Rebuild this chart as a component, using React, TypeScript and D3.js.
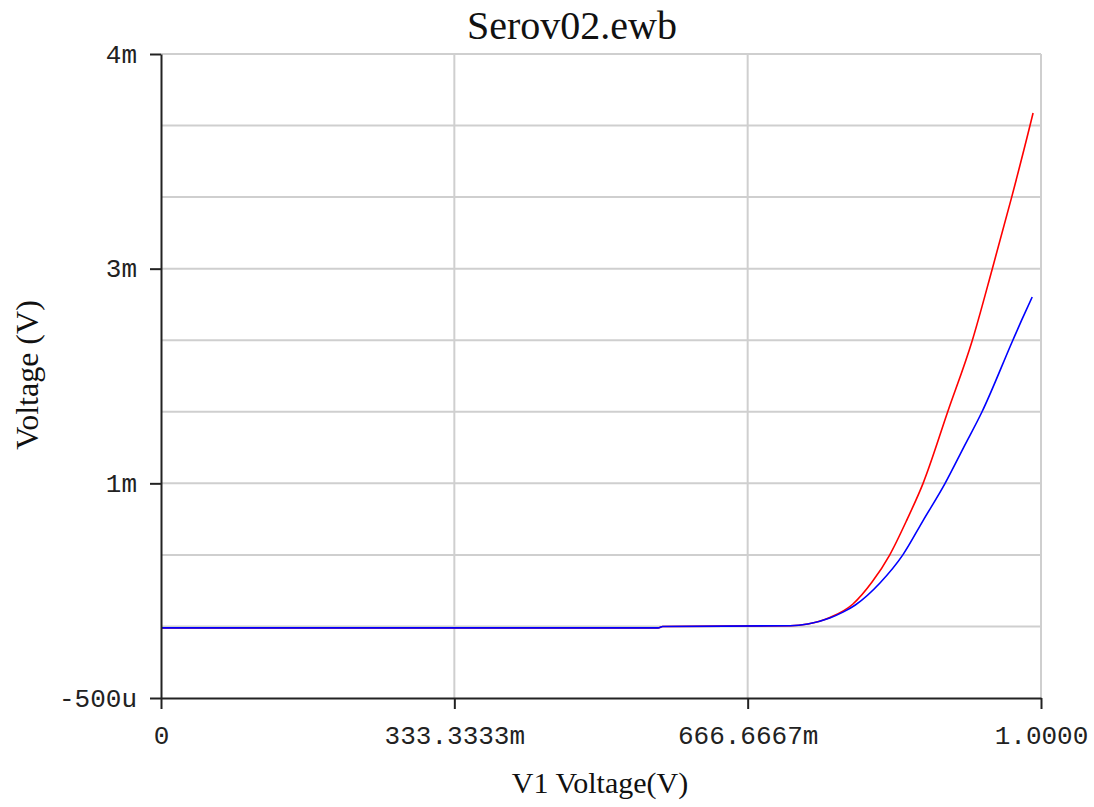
import React, { useEffect, useRef } from 'react';
import * as d3 from 'd3';

// sweep of V1 (volts) and node voltages (millivolts)
const redX = [0, 0.565, 0.57, 0.715, 0.735, 0.76, 0.786, 0.808, 0.828, 0.848, 0.866, 0.894, 0.922, 0.9447, 0.9667, 0.9875, 0.991];
const redMv = [-0.01, -0.01, 0, 0.005, 0.017, 0.062, 0.155, 0.31, 0.499, 0.75, 1.0, 1.5, 2.0, 2.5, 3.0, 3.5, 3.588];

const blueX = [0, 0.565, 0.57, 0.715, 0.735, 0.76, 0.775, 0.789, 0.817, 0.843, 0.866, 0.891, 0.912, 0.933, 0.968, 0.978, 0.99];
const blueMv = [-0.01, -0.01, 0, 0.005, 0.017, 0.059, 0.1, 0.15, 0.304, 0.5, 0.74, 1.0, 1.25, 1.5, 2.0, 2.14, 2.302];

const xTicks = [0, 1 / 3, 2 / 3, 1];
const xTickLabels = ['0', '333.3333m', '666.6667m', '1.0000'];
const yTicks = [4, 2.5, 1, -0.5];
const yTickLabels = ['4m', '3m', '1m', '-500u'];
const yGrid = [0, 0.5, 1, 1.5, 2, 2.5, 3, 3.5, 4];

const W = 1094;
const H = 807;

export default function App() {
  const svgRef = useRef<SVGSVGElement>(null);

  useEffect(() => {
    if (!svgRef.current) return;
    const svg = d3.select(svgRef.current);
    svg.selectAll('*').remove();

    const xScale = d3.scaleLinear().domain([0, 1]).range([161, 1041]);
    const yScale = d3.scaleLinear().domain([-0.5, 4]).range([698, 54]);

    // grid
    const grid = svg.append('g').attr('stroke', '#cfcfcf').attr('stroke-width', 2);
    yGrid.forEach(v => {
      grid.append('line')
        .attr('x1', xScale(0)).attr('x2', xScale(1))
        .attr('y1', yScale(v)).attr('y2', yScale(v));
    });
    xTicks.slice(1).forEach(v => {
      grid.append('line')
        .attr('x1', xScale(v)).attr('x2', xScale(v))
        .attr('y1', yScale(4)).attr('y2', yScale(-0.5));
    });

    // traces
    const line = d3.line<[number, number]>()
      .x(d => xScale(d[0]))
      .y(d => yScale(d[1]))
      .curve(d3.curveMonotoneX);

    svg.append('path')
      .datum(redX.map((x, i) => [x, redMv[i]] as [number, number]))
      .attr('fill', 'none')
      .attr('stroke', '#ff0000')
      .attr('stroke-width', 1.6)
      .attr('d', line);

    svg.append('path')
      .datum(blueX.map((x, i) => [x, blueMv[i]] as [number, number]))
      .attr('fill', 'none')
      .attr('stroke', '#0000ff')
      .attr('stroke-width', 1.6)
      .attr('d', line);

    // axes
    const xAxis = svg.append('g')
      .attr('transform', `translate(0,${yScale(-0.5)})`)
      .call(d3.axisBottom(xScale)
        .tickValues(xTicks)
        .tickFormat((_, i) => xTickLabels[i])
        .tickSize(11)
        .tickSizeOuter(0)
        .tickPadding(17));

    const yAxis = svg.append('g')
      .attr('transform', `translate(${xScale(0)},0)`)
      .call(d3.axisLeft(yScale)
        .tickValues(yTicks)
        .tickFormat((_, i) => yTickLabels[i])
        .tickSize(11)
        .tickSizeOuter(0)
        .tickPadding(13));

    [xAxis, yAxis].forEach(a => {
      a.attr('color', '#222')
        .attr('font-family', '"Liberation Mono", monospace')
        .attr('font-size', 26);
      a.selectAll('path, line').attr('stroke-width', 2);
    });

    // titles
    svg.append('text')
      .attr('x', 572).attr('y', 39)
      .attr('text-anchor', 'middle')
      .attr('font-family', '"Liberation Serif", serif')
      .attr('font-size', 40)
      .attr('fill', '#111')
      .text('Serov02.ewb');

    svg.append('text')
      .attr('x', 600).attr('y', 793)
      .attr('text-anchor', 'middle')
      .attr('font-family', '"Liberation Serif", serif')
      .attr('font-size', 30)
      .attr('fill', '#111')
      .text('V1 Voltage(V)');

    svg.append('text')
      .attr('transform', 'translate(38,375) rotate(-90)')
      .attr('text-anchor', 'middle')
      .attr('font-family', '"Liberation Serif", serif')
      .attr('font-size', 32)
      .attr('fill', '#111')
      .text('Voltage (V)');
  }, []);

  return (
    <svg
      ref={svgRef}
      width={W}
      height={H}
      style={{ position: 'absolute', left: 0, top: 0, background: '#fff', display: 'block' }}
    />
  );
}
